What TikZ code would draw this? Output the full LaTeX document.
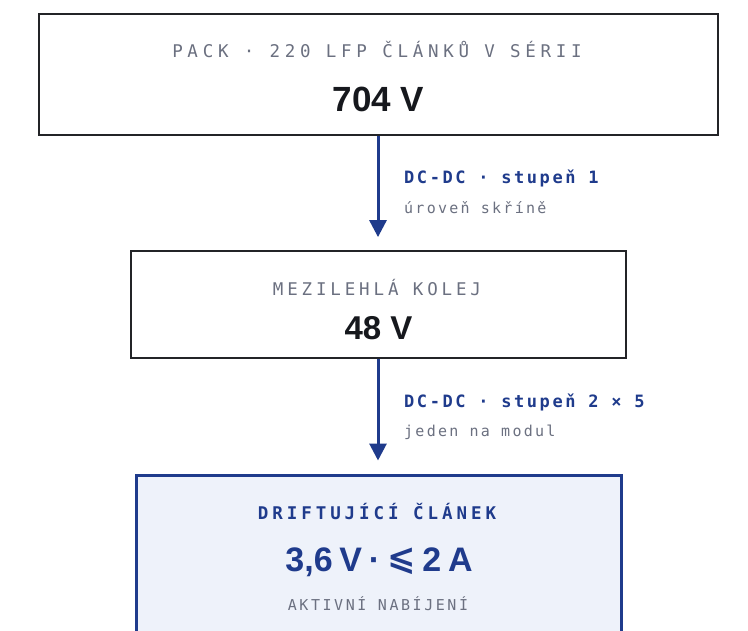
\documentclass[tikz,border=0pt]{standalone}
\usepackage{fontspec}
\usetikzlibrary{arrows.meta}
\setmainfont{Liberation Sans}
\newfontfamily\capsfont{DejaVu Sans Mono}[LetterSpace=27]
\newfontfamily\capsnarrow{DejaVu Sans Mono}[LetterSpace=22]
\newfontfamily\capsbold{DejaVu Sans Mono}[LetterSpace=22.5]
\newfontfamily\capssmall{DejaVu Sans Mono}[LetterSpace=17]
\newfontfamily\lblfont{DejaVu Sans Mono}[LetterSpace=15]
\newfontfamily\notefont{DejaVu Sans Mono}[LetterSpace=15]
\newfontfamily\symfont{DejaVu Sans}
\definecolor{navy}{HTML}{1F3B8C}
\definecolor{mutedgray}{HTML}{6B7080}
\definecolor{inkdark}{HTML}{16181D}
\definecolor{edgedark}{HTML}{232427}
\definecolor{cellfill}{HTML}{EEF2FA}
\newcommand{\gap}{\hspace{0.2em}}
\tikzset{
  box/.style={draw=edgedark, line width=1.8pt, fill=white, inner sep=0pt},
  activebox/.style={draw=navy, line width=3pt, fill=cellfill, inner sep=0pt},
  caption/.style={anchor=base, inner sep=0pt, text=mutedgray, font=\capsfont\fontsize{17.5}{19}\selectfont},
  activecaption/.style={caption, text=navy, font=\capsbold\bfseries\fontsize{17.5}{19}\selectfont},
  value/.style={anchor=base, inner sep=0pt, text=inkdark, font=\bfseries\fontsize{35}{38}\selectfont},
  stagelabel/.style={anchor=base west, inner sep=0pt, text=navy, font=\lblfont\bfseries\fontsize{17}{19}\selectfont},
  stagenote/.style={anchor=base west, inner sep=0pt, text=mutedgray, font=\notefont\fontsize{15}{17}\selectfont},
  flow/.style={draw=navy, line width=3pt, -{Triangle[width=17pt,length=17pt]}, shorten >=13pt},
}
\begin{document}
\begin{tikzpicture}[x=1pt, y=-1pt]
\useasboundingbox (0,0) rectangle (748,631);
\clip (0,0) rectangle (748,631);
\fill[white] (0,0) rectangle (748,631);

% battery pack
\node[box, minimum width=679pt, minimum height=121pt] (pack) at (378.5,74.5) {};
\node[caption] (packcap) at (377,57.5) {PACK · 220 LFP ČLÁNKŮ V SÉRII};
\node[value] (packval) at (378.5,111.5) {704 V};

% intermediate rail
\node[box, minimum width=495pt, minimum height=107pt] (rail) at (378.5,304.5) {};
\node[caption, font=\capsnarrow\fontsize{17.5}{19}\selectfont] (railcap) at (377,296) {MEZILEHLÁ KOLEJ};
\node[value, font=\bfseries\fontsize{33}{36}\selectfont] (railval) at (378.5,339.5) {48 V};

% drifting cell
\node[activebox, minimum width=485pt, minimum height=210pt] (cell) at (378.5,580) {};
\node[activecaption] (cellcap) at (377,519) {DRIFTUJÍCÍ ČLÁNEK};
\node[value, text=navy, font=\bfseries\fontsize{34}{37}\selectfont] (cellval) at (379,571)
  {3,6\gap V\gap·\gap\raisebox{2pt}{\symfont\bfseries ⩽}\gap 2\gap A};
\node[caption, font=\capssmall\fontsize{15}{17}\selectfont] (cellnote) at (378,610) {AKTIVNÍ NABÍJENÍ};

% converter stages
\draw[flow] (pack.south -| 378,0) -- (rail.north -| 378,0);
\draw[flow] (rail.south -| 378,0) -- (cell.north -| 378,0);

\node[stagelabel] (s1) at (404,184) {DC-DC · stupeň 1};
\node[stagenote] (s1n) at (404,213.5) {úroveň skříně};
\node[stagelabel] (s2) at (404,407) {DC-DC · stupeň 2 × 5};
\node[stagenote] (s2n) at (404,437) {jeden na modul};
\end{tikzpicture}
\end{document}
